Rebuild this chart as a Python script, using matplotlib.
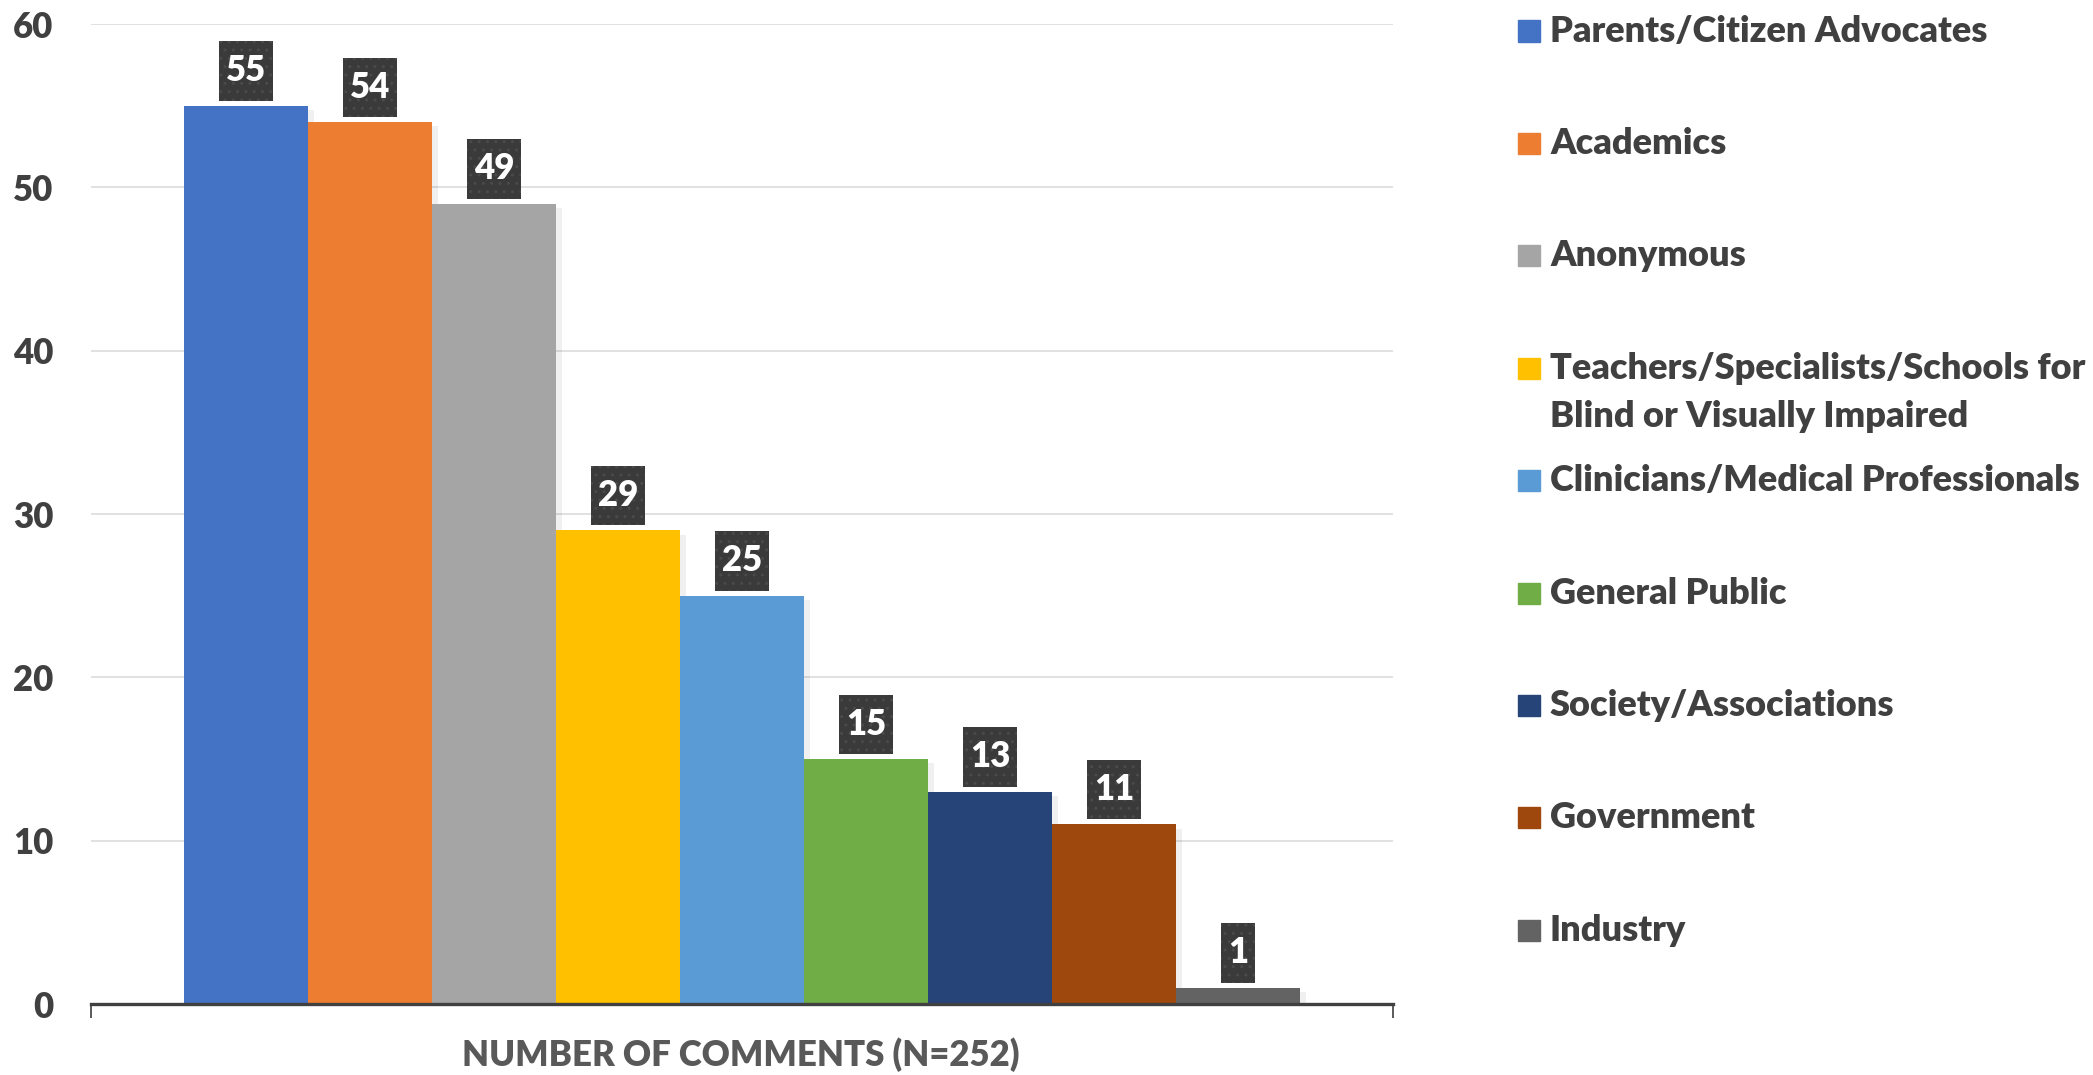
import numpy as np
import matplotlib.pyplot as plt
from matplotlib.patches import Rectangle
from matplotlib.path import Path
import matplotlib.patheffects as pe

plt.rcParams['font.family'] = ['Lato', 'DejaVu Sans']
plt.rcParams['hatch.linewidth'] = 1.0

categories = ['Parents/Citizen Advocates', 'Academics', 'Anonymous',
              'Teachers/Specialists/Schools for\nBlind or Visually Impaired',
              'Clinicians/Medical Professionals', 'General Public',
              'Society/Associations', 'Government', 'Industry']
counts = [55, 54, 49, 29, 25, 15, 13, 11, 1]
colors = ['#4472C4', '#ED7D31', '#A5A5A5', '#FFC000', '#5B9BD5',
          '#70AD47', '#264478', '#9E480E', '#636363']
yticks = [0, 10, 20, 30, 40, 50, 60]
xlabel = 'NUMBER OF COMMENTS (N=252)'


def label_box(x0, y0, width, height, mutation_size):
    # square box, more padding top/bottom than left/right
    px, py = 0.2 * mutation_size, 0.38 * mutation_size
    x0, x1 = x0 - px, x0 + width + px
    y0, y1 = y0 - py, y0 + height + py
    return Path([(x0, y0), (x1, y0), (x1, y1), (x0, y1), (x0, y0)], closed=True)


W, H = 2093, 1075
fig = plt.figure(figsize=(W / 100, H / 100), dpi=100)
ax = fig.add_axes([91 / W, 1 - 1004 / H, (1393 - 91) / W, (1004 - 24) / H])

x = np.arange(len(counts))
bars = ax.bar(x, counts, width=1.0, color=colors, zorder=3)
for b in bars:
    b.set_path_effects([pe.SimplePatchShadow(offset=(4, -3), shadow_rgbFace='#000000', alpha=0.06), pe.Normal()])

ax.set_xlim(-1.25, len(counts) + 0.25)
ax.set_ylim(0, 60)
ax.set_yticks(yticks)
ax.yaxis.grid(True, color='#D9D9D9', linewidth=1.1, zorder=0)
ax.set_axisbelow(True)
for s in ['top', 'right', 'left']:
    ax.spines[s].set_visible(False)
ax.spines['bottom'].set_color('#404040')
ax.spines['bottom'].set_linewidth(2.4)
ax.spines['bottom'].set_zorder(4)

ax.set_xticks(list(ax.get_xlim()))
ax.set_xticklabels(['', ''])
ax.tick_params(axis='x', direction='out', length=10, width=1.2, color='#404040')
ax.tick_params(axis='y', length=0, pad=27, labelsize=25, labelcolor='#404040')
for lab in ax.get_yticklabels():
    lab.set_fontweight('heavy')

# value labels in dark boxes
for xi, v in zip(x, counts):
    ax.annotate(str(v), (xi, v), xytext=(0, 25), textcoords='offset points',
                ha='center', va='center', color='white', fontsize=25, fontweight='heavy',
                zorder=6,
                bbox=dict(boxstyle=label_box, fc='#3A3A3A', ec='#4A4A4A',
                          lw=0, hatch='..'))

fig.text(741 / W, 1 - 1055 / H, xlabel, ha='center', va='center',
         fontsize=25, fontweight='heavy', color='#595959')

# legend
row0, step = 31, 112.4
for i, (lab, c) in enumerate(zip(categories, colors)):
    yc = row0 + i * step
    fig.add_artist(Rectangle((1518 / W, 1 - (yc + 10.5) / H), 22 / W, 21 / H,
                             transform=fig.transFigure, color=c))
    for k, line in enumerate(lab.split('\n')):
        fig.text(1550 / W, 1 - (yc + k * 48) / H, line, ha='left', va='center',
                 fontsize=26, fontweight='heavy', color='#404040')

fig.savefig('out.png', dpi=100)
